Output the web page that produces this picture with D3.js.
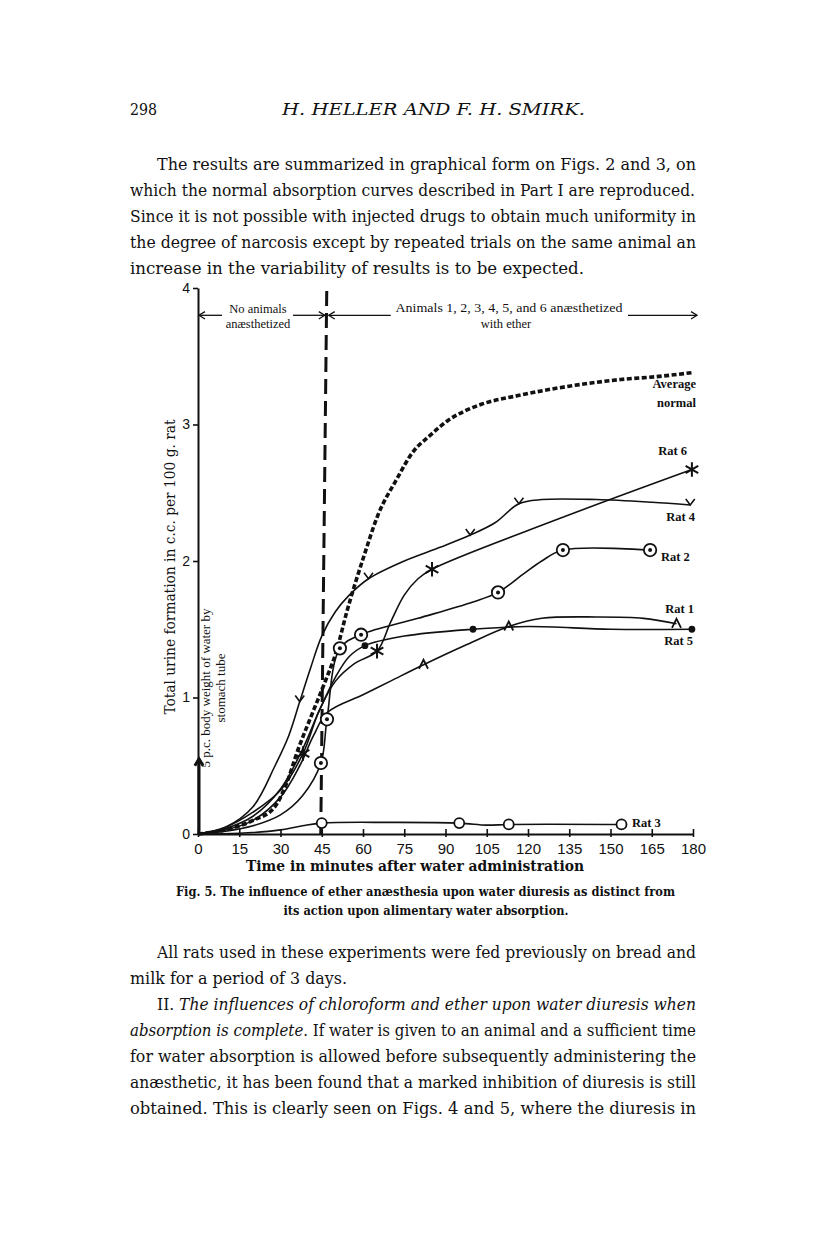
<!DOCTYPE html>
<html>
<head>
<meta charset="utf-8">
<script src="https://cdn.jsdelivr.net/npm/d3@7"></script>
<style>
  body { margin: 0; background: #fff; }
  text { fill: #111; }
</style>
</head>
<body>
<script>
var width = 816, height = 1258;

// axes
var xTicks = [0, 15, 30, 45, 60, 75, 90, 105, 120, 135, 150, 165, 180];
var yTicks = [0, 1, 2, 3, 4];
var etherGiven = 45;

// readings, [minutes, c.c. per 100 g.]
var averageNormal = [[0,0],[10,0.03],[20,0.1],[27.6,0.19],[32,0.36],[36.4,0.62],[41.5,0.88],[46.5,1.13],[50.2,1.33],[54,1.62],[60.4,2.04],[65.5,2.34],[72,2.59],[78.2,2.8],[84.4,2.92],[90.9,3.03],[97.1,3.1],[103.3,3.15],[116,3.21],[128.7,3.26],[141.5,3.3],[153.8,3.33],[166.5,3.35],[179.6,3.38]];

var rat1 = [[0,0],[10,0.03],[20,0.1],[30,0.27],[37,0.5],[42,0.72],[47,0.89],[60,1.02],[70,1.12],[82,1.24],[98,1.39],[113,1.52],[125,1.58],[145,1.59],[162,1.58],[174,1.54]];
var rat1Marks = [82, 113, 174];

var rat2 = [[0,0],[10,0.02],[20,0.06],[30,0.14],[38,0.28],[44.7,0.52],[46.9,0.84],[51.6,1.36],[59.3,1.46],[80,1.58],[100,1.7],[109.1,1.77],[118,1.9],[125,2.0],[132.7,2.08],[164.4,2.08]];
var rat2Marks = [44.7, 46.9, 51.6, 59.3, 109.1, 132.7, 164.4];

var rat3 = [[0,0],[15,0.005],[30,0.03],[38,0.06],[45,0.08],[70,0.085],[95,0.08],[105,0.065],[113,0.07],[154,0.07]];
var rat3Marks = [45, 95, 113, 154];

var rat4 = [[0,0],[10,0.05],[20,0.2],[28,0.5],[33,0.72],[37,0.97],[41,1.22],[45,1.45],[50,1.63],[55,1.75],[62,1.87],[75,2.0],[88,2.1],[99,2.19],[108,2.28],[116.7,2.42],[125,2.45],[145,2.45],[165,2.43],[179,2.41]];
var rat4Marks = [37, 62, 99, 116.7, 179];

var rat5 = [[0,0],[10,0.04],[20,0.13],[30,0.33],[38,0.62],[44,0.9],[50,1.15],[55,1.3],[60.7,1.38],[75,1.45],[100,1.5],[120,1.52],[150,1.5],[179.6,1.5]];
var rat5Marks = [60.7, 100, 179.6];

var rat6 = [[0,0],[10,0.05],[20,0.16],[30,0.32],[38.2,0.59],[44,0.9],[50,1.12],[57,1.25],[65.1,1.34],[70,1.55],[75,1.75],[80,1.87],[85.1,1.94],[130,2.3],[179.6,2.67]];
var rat6Marks = [38.2, 65.1, 85.1, 179.6];

var series = [
  {name: "Rat 1", data: rat1, marks: rat1Marks, symbol: "caret"},
  {name: "Rat 2", data: rat2, marks: rat2Marks, symbol: "target"},
  {name: "Rat 3", data: rat3, marks: rat3Marks, symbol: "ring"},
  {name: "Rat 4", data: rat4, marks: rat4Marks, symbol: "vee"},
  {name: "Rat 5", data: rat5, marks: rat5Marks, symbol: "dot"},
  {name: "Rat 6", data: rat6, marks: rat6Marks, symbol: "star"}
];

var serif = "'DejaVu Serif Condensed', 'DejaVu Serif', serif";
var times = "'Liberation Serif', 'Times New Roman', serif";
var sans = "'Liberation Sans', Arial, sans-serif";

var svg = d3.select("body")
    .append("svg")
    .attr("width", width)
    .attr("height", height);

function textLine(x, y, parts, len, size, weight, anchor, family) {
  var t = svg.append("text")
      .attr("x", x).attr("y", y)
      .attr("font-family", family || serif)
      .attr("font-size", size)
      .attr("font-weight", weight || "normal")
      .attr("text-anchor", anchor || "start");
  if (len) t.attr("textLength", len).attr("lengthAdjust", "spacingAndGlyphs");
  parts.forEach(function(p) {
    t.append("tspan").attr("font-style", p[1] ? "italic" : "normal").text(p[0]);
  });
  return t;
}

// page header
textLine(130, 115, [["298"]], 27, 17);
textLine(282, 115, [["H. HELLER AND F. H. SMIRK.", 1]], 303, 17);

// paragraph above
var para1 = [
  [157, 170, 539, [["The results are summarized in graphical form on Figs. 2 and 3, on"]]],
  [130, 196, 565, [["which the normal absorption curves described in Part I are reproduced."]]],
  [130, 222, 566, [["Since it is not possible with injected drugs to obtain much uniformity in"]]],
  [130, 248, 566, [["the degree of narcosis except by repeated trials on the same animal an"]]],
  [130, 274, 454, [["increase in the variability of results is to be expected."]]]
];
para1.forEach(function(l) { textLine(l[0], l[1], l[3], l[2], 16.5); });

// scales
var x = d3.scaleLinear().domain([0, 180]).range([198, 693]);
var y = d3.scaleLinear().domain([0, 4]).range([834, 288]);

// axes
var xAxis = svg.append("g")
    .attr("transform", "translate(0," + y(0) + ")")
    .call(d3.axisBottom(x).tickValues(xTicks).tickSizeInner(-5).tickSizeOuter(0).tickPadding(9));
var yAxis = svg.append("g")
    .attr("transform", "translate(" + x(0) + ",0)")
    .call(d3.axisLeft(y).tickValues(yTicks).tickFormat(d3.format("d")).tickSizeInner(5).tickSizeOuter(0).tickPadding(3));
[xAxis, yAxis].forEach(function(a) {
  a.select(".domain").attr("stroke", "#111").attr("stroke-width", 2);
  a.selectAll(".tick line").attr("stroke", "#111").attr("stroke-width", 1.6);
  a.selectAll(".tick text").attr("font-family", sans).attr("font-size", 15).attr("fill", "#111");
});
xAxis.selectAll(".tick line").attr("y2", -5).attr("y1", 3);
yAxis.selectAll(".tick text").attr("font-size", 14);

textLine(415, 871, [["Time in minutes after water administration"]], 338, 14, "bold", "middle");

// y label
svg.append("text")
    .attr("transform", "translate(175," + 567 + ") rotate(-90)")
    .attr("text-anchor", "middle")
    .attr("font-family", serif)
    .attr("font-size", 15.5)
    .attr("textLength", 295).attr("lengthAdjust", "spacingAndGlyphs")
    .text("Total urine formation in c.c. per 100 g. rat");
svg.append("text")
    .attr("transform", "translate(210,688) rotate(-90)")
    .attr("text-anchor", "middle")
    .attr("font-family", times)
    .attr("font-size", 13)
    .text("5 p.c. body weight of water by");
svg.append("text")
    .attr("transform", "translate(225,688) rotate(-90)")
    .attr("text-anchor", "middle")
    .attr("font-family", times)
    .attr("font-size", 13)
    .text("stomach tube");

// water given arrow
function arrow(x1, y1, x2, y2, w, head) {
  var a = Math.atan2(y2 - y1, x2 - x1), h = head || 6;
  var g = svg.append("g").attr("stroke", "#111").attr("stroke-width", w).attr("fill", "none");
  g.append("line").attr("x1", x1).attr("y1", y1).attr("x2", x2).attr("y2", y2);
  g.append("path").attr("d",
    "M" + (x2 - h * Math.cos(a - 0.55)) + "," + (y2 - h * Math.sin(a - 0.55)) +
    "L" + x2 + "," + y2 +
    "L" + (x2 - h * Math.cos(a + 0.55)) + "," + (y2 - h * Math.sin(a + 0.55)));
}
arrow(x(0) + 1, y(0), x(0) + 1, y(0.55), 3, 8);

// ether line
svg.append("line")
    .attr("x1", x(etherGiven) - 1).attr("y1", y(0))
    .attr("x2", x(etherGiven) + 5).attr("y2", y(4) + 2)
    .attr("stroke", "#111").attr("stroke-width", 3)
    .attr("stroke-dasharray", "15,7");

// top annotation
var ay = y(3.8);
arrow(x(0) + 24, ay, x(0) + 1, ay, 1.3, 7);
arrow(x(0) + 95, ay, x(etherGiven) + 3, ay, 1.3, 7);
arrow(x(etherGiven) + 69, ay, x(etherGiven) + 7, ay, 1.3, 7);
arrow(628, ay, x(180) + 4, ay, 1.3, 7);
textLine(258, ay - 2, [["No animals"]], null, 12.5, "normal", "middle", times);
textLine(258, ay + 13, [["anæsthetized"]], null, 12.5, "normal", "middle", times);
textLine(509, ay - 3, [["Animals 1, 2, 3, 4, 5, and 6 anæsthetized"]], 227, 12.5, "normal", "middle", times);
textLine(506, ay + 13, [["with ether"]], null, 12.5, "normal", "middle", times);

// curves
var line = d3.line()
    .x(function(d) { return x(d[0]); })
    .y(function(d) { return y(d[1]); })
    .curve(d3.curveCatmullRom.alpha(0.5));

svg.selectAll(".rat")
    .data(series)
  .enter().append("path")
    .attr("class", "rat")
    .attr("d", function(d) { return line(d.data); })
    .attr("fill", "none")
    .attr("stroke", "#111")
    .attr("stroke-width", 1.6);

svg.append("path")
    .attr("d", line.curve(d3.curveMonotoneX)(averageNormal))
    .attr("fill", "none")
    .attr("stroke", "#111")
    .attr("stroke-width", 3.6)
    .attr("stroke-dasharray", "5,2.5");

// markers
var star = d3.symbol(d3.symbolAsterisk, 150);
series.forEach(function(s) {
  var pts = s.data.filter(function(d) { return s.marks.indexOf(d[0]) >= 0; });
  var g = svg.append("g").selectAll("g")
      .data(pts)
    .enter().append("g")
      .attr("transform", function(d) { return "translate(" + x(d[0]) + "," + y(d[1]) + ")"; });
  if (s.symbol === "target") {
    g.append("circle").attr("r", 6.2).attr("fill", "#fff").attr("stroke", "#111").attr("stroke-width", 1.8);
    g.append("circle").attr("r", 2).attr("fill", "#111");
  } else if (s.symbol === "ring") {
    g.append("circle").attr("r", 5).attr("fill", "#fff").attr("stroke", "#111").attr("stroke-width", 1.8);
  } else if (s.symbol === "dot") {
    g.append("circle").attr("r", 3.4).attr("fill", "#111");
  } else if (s.symbol === "star") {
    g.append("path").attr("d", star).attr("fill", "none").attr("stroke", "#111").attr("stroke-width", 2);
  } else if (s.symbol === "vee") {
    g.append("path").attr("d", "M-4.5,-6L0,0L4.5,-6").attr("fill", "none").attr("stroke", "#111").attr("stroke-width", 1.6);
  } else if (s.symbol === "caret") {
    g.append("path").attr("d", "M-4.5,4L0,-5L4.5,4").attr("fill", "none").attr("stroke", "#111").attr("stroke-width", 1.8);
  }
});

// series labels
textLine(696, 388, [["Average"]], null, 12.5, "bold", "end", times);
textLine(696, 407, [["normal"]], null, 12.5, "bold", "end", times);
textLine(687, 455, [["Rat 6"]], null, 12.5, "bold", "end", times);
textLine(695, 521, [["Rat 4"]], null, 12.5, "bold", "end", times);
textLine(661, 561, [["Rat 2"]], null, 12.5, "bold", "start", times);
textLine(694, 613, [["Rat 1"]], null, 12.5, "bold", "end", times);
textLine(693, 645, [["Rat 5"]], null, 12.5, "bold", "end", times);
textLine(632, 827, [["Rat 3"]], null, 12.5, "bold", "start", times);

// caption
textLine(176, 896, [["Fig. 5. The influence of ether anæsthesia upon water diuresis as distinct from"]], 499, 13.5, "bold");
textLine(426, 915, [["its action upon alimentary water absorption."]], 285, 13.5, "bold", "middle");

// paragraph below
var para2 = [
  [157, 958, 539, [["All rats used in these experiments were fed previously on bread and"]]],
  [130, 984, 217, [["milk for a period of 3 days."]]],
  [157, 1010, 539, [["II.  "], ["The influences of chloroform and ether upon water diuresis when", 1]]],
  [130, 1036, 566, [["absorption is complete", 1], [".  If water is given to an animal and a sufficient time"]]],
  [130, 1062, 566, [["for water absorption is allowed before subsequently administering the"]]],
  [130, 1088, 566, [["anæsthetic, it has been found that a marked inhibition of diuresis is still"]]],
  [130, 1114, 566, [["obtained. This is clearly seen on Figs. 4 and 5, where the diuresis in"]]]
];
para2.forEach(function(l) { textLine(l[0], l[1], l[3], l[2], 16.5); });
</script>
</body>
</html>
